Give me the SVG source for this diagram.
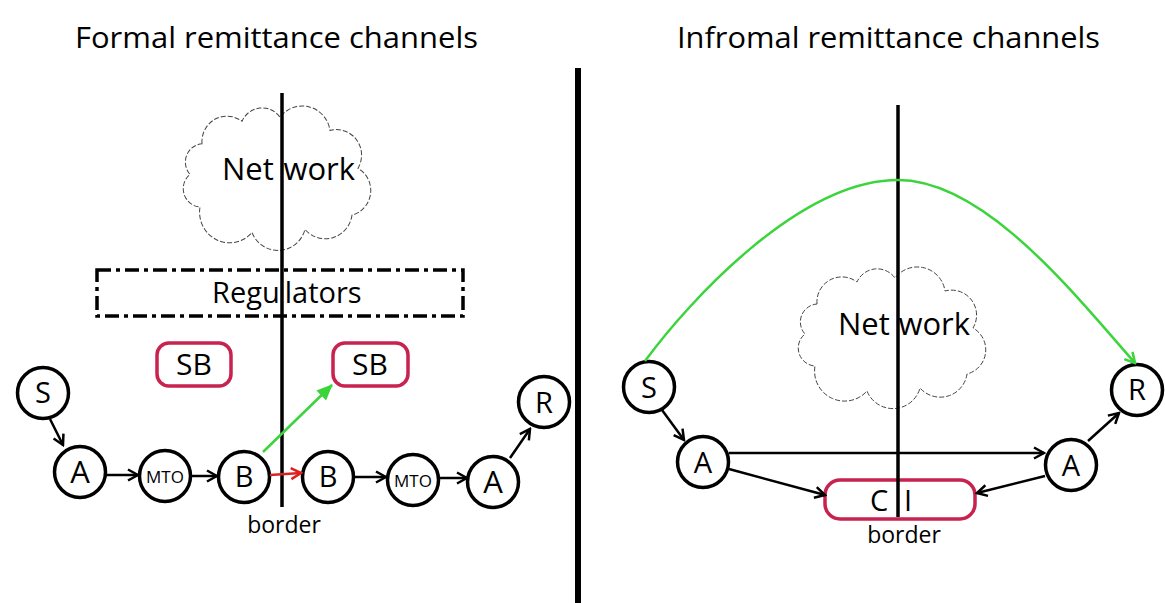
<svg xmlns="http://www.w3.org/2000/svg" width="1165" height="603" viewBox="0 0 1165 603">
<style>
.t{font-family:"Open Sans","Liberation Sans",sans-serif;fill:#000}
.node{fill:#fff;stroke:#000;stroke-width:3.5}
.sb{fill:#fff;stroke:#C8224F;stroke-width:3.5}
.cloud{fill:#fff;stroke:#444;stroke-width:1;stroke-dasharray:5 2}
.border{stroke:#000;stroke-width:3.5}
.c{fill:none;stroke:#000;stroke-width:2.5}
</style>
<defs>
<path id="cloudShape" d="M22,38 A25,25 0 0 1 62,16 A22,22 0 0 1 100,12 A28,28 0 0 1 150,25 A25,25 0 0 1 178,62 A25,25 0 0 1 172,108 A27,27 0 0 1 125,122 A28,28 0 0 1 72,125 A30,30 0 0 1 20,100 A18,18 0 0 1 10,68 A18,18 0 0 1 22,38 Z"/>
<marker id="ah" viewBox="0 0 14 14" refX="12" refY="7" markerWidth="14" markerHeight="14" markerUnits="userSpaceOnUse" orient="auto"><path d="M2,1.5 L12,7 L2,12.5" fill="none" stroke="#000" stroke-width="2.5"/></marker>
<marker id="ahr" viewBox="0 0 14 14" refX="12" refY="7" markerWidth="14" markerHeight="14" markerUnits="userSpaceOnUse" orient="auto"><path d="M2,1.5 L12,7 L2,12.5" fill="none" stroke="#E02020" stroke-width="2.5"/></marker>
<marker id="ahg" viewBox="0 0 14 14" refX="12" refY="7" markerWidth="14" markerHeight="14" markerUnits="userSpaceOnUse" orient="auto"><path d="M2,1.5 L12,7 L2,12.5" fill="none" stroke="#3BD43B" stroke-width="2.5"/></marker>
<marker id="ahgf" viewBox="0 0 16 16" refX="15" refY="8" markerWidth="16" markerHeight="16" markerUnits="userSpaceOnUse" orient="auto"><path d="M0,1 L16,8 L0,15 Z" fill="#3BD43B"/></marker>
</defs>
<rect width="1165" height="603" fill="#fff"/>

<g id="titles">
<text class="t" x="75" y="48" font-size="30" textLength="403" lengthAdjust="spacingAndGlyphs">Formal remittance channels</text>
<text class="t" x="677" y="48" font-size="30" textLength="423" lengthAdjust="spacingAndGlyphs">Infromal remittance channels</text>
</g>

<g id="divider"><line x1="578" y1="68" x2="578" y2="603" stroke="#000" stroke-width="6"/></g>

<g id="network-left">
<use href="#cloudShape" class="cloud" transform="translate(180,105) scale(1,1.02)"/>
<text class="t" x="222" y="180" font-size="31">Net<tspan dx="9.6">work</tspan></text>
</g>
<g id="network-right">
<use href="#cloudShape" class="cloud" transform="translate(795,266)"/>
<text class="t" x="838" y="335" font-size="31">Net<tspan dx="8.6">work</tspan></text>
</g>

<g id="regulators">
<rect x="97" y="270" width="366" height="46" fill="none" stroke="#000" stroke-width="3.5" stroke-dasharray="14 5 4 5"/>
<text class="t" x="212" y="303" font-size="29">Regu<tspan dx="5">lators</tspan></text>
</g>

<g id="sb-left"><rect class="sb" x="157" y="343" width="74" height="43" rx="12"/><text class="t" x="194" y="375" font-size="30" text-anchor="middle">SB</text></g>
<g id="sb-right"><rect class="sb" x="333" y="343" width="75" height="43" rx="12"/><text class="t" x="370" y="375" font-size="30" text-anchor="middle">SB</text></g>

<g id="ci"><rect class="sb" x="825" y="480" width="150" height="39" rx="15"/><text class="t" x="870" y="510.7" font-size="29">C<tspan dx="15.7">I</tspan></text></g>

<g id="borders">
<line class="border" x1="282" y1="93" x2="282" y2="507"/>
<line class="border" x1="898" y1="105" x2="898" y2="517"/>
<text class="t" x="284" y="533" font-size="23" text-anchor="middle" fill="#222">border</text>
<text class="t" x="904" y="543" font-size="23" text-anchor="middle" fill="#222">border</text>
</g>

<g id="f-S"><circle class="node" cx="43" cy="393" r="25.5"/><text class="t" x="43" y="403" font-size="29" text-anchor="middle">S</text></g>
<g id="f-A1"><circle class="node" cx="80" cy="472" r="25.5"/><text class="t" x="80" y="483" font-size="31" text-anchor="middle">A</text></g>
<g id="f-MTO1"><circle class="node" cx="165" cy="476" r="25.5"/><text class="t" x="165" y="482.5" font-size="17" text-anchor="middle">MTO</text></g>
<g id="f-B1"><circle class="node" cx="244" cy="477" r="25.5"/><text class="t" x="244" y="486.5" font-size="29" text-anchor="middle">B</text></g>
<g id="f-B2"><circle class="node" cx="328" cy="477" r="25.5"/><text class="t" x="328" y="486.5" font-size="29" text-anchor="middle">B</text></g>
<g id="f-MTO2"><circle class="node" cx="413" cy="480" r="25.5"/><text class="t" x="413" y="486.5" font-size="17" text-anchor="middle">MTO</text></g>
<g id="f-A2"><circle class="node" cx="493" cy="482" r="25.5"/><text class="t" x="493" y="493" font-size="31" text-anchor="middle">A</text></g>
<g id="f-R"><circle class="node" cx="544" cy="402" r="25.5"/><text class="t" x="544" y="413" font-size="29" text-anchor="middle">R</text></g>

<g id="i-S"><circle class="node" cx="649" cy="387" r="25.5"/><text class="t" x="649" y="398" font-size="29" text-anchor="middle">S</text></g>
<g id="i-A1"><circle class="node" cx="703" cy="462" r="25.5"/><text class="t" x="703" y="473" font-size="29" text-anchor="middle">A</text></g>
<g id="i-A2"><circle class="node" cx="1071" cy="465" r="25.5"/><text class="t" x="1071" y="475.5" font-size="29" text-anchor="middle">A</text></g>
<g id="i-R"><circle class="node" cx="1137" cy="390" r="25.5"/><text class="t" x="1137" y="400" font-size="29" text-anchor="middle">R</text></g>

<g id="connectors">
<line class="c" x1="50" y1="419" x2="63" y2="445" marker-end="url(#ah)"/>
<line class="c" x1="106" y1="475" x2="138" y2="475" marker-end="url(#ah)"/>
<line class="c" x1="191" y1="476" x2="217" y2="476" marker-end="url(#ah)"/>
<line x1="270" y1="475" x2="301" y2="473" stroke="#E02020" stroke-width="2.5" marker-end="url(#ahr)"/>
<line x1="263" y1="452" x2="332" y2="385" stroke="#3BD43B" stroke-width="2.5" marker-end="url(#ahgf)"/>
<line class="c" x1="354" y1="477" x2="386" y2="477" marker-end="url(#ah)"/>
<line class="c" x1="439" y1="478" x2="467" y2="478" marker-end="url(#ah)"/>
<line class="c" x1="510" y1="458" x2="530" y2="429" marker-end="url(#ah)"/>

<line class="c" x1="662" y1="410" x2="684" y2="440" marker-end="url(#ah)"/>
<line class="c" x1="729" y1="453" x2="1044" y2="453" marker-end="url(#ah)"/>
<line class="c" x1="729" y1="469" x2="825" y2="495" marker-end="url(#ah)"/>
<line class="c" x1="1045" y1="476" x2="977" y2="493" marker-end="url(#ah)"/>
<line class="c" x1="1088" y1="441" x2="1119" y2="413" marker-end="url(#ah)"/>
<path d="M645,361 C690,300 800,180 898,180 C985,180 1075,295 1135,363" fill="none" stroke="#3BD43B" stroke-width="2.5" marker-end="url(#ahg)"/>
</g>
</svg>
